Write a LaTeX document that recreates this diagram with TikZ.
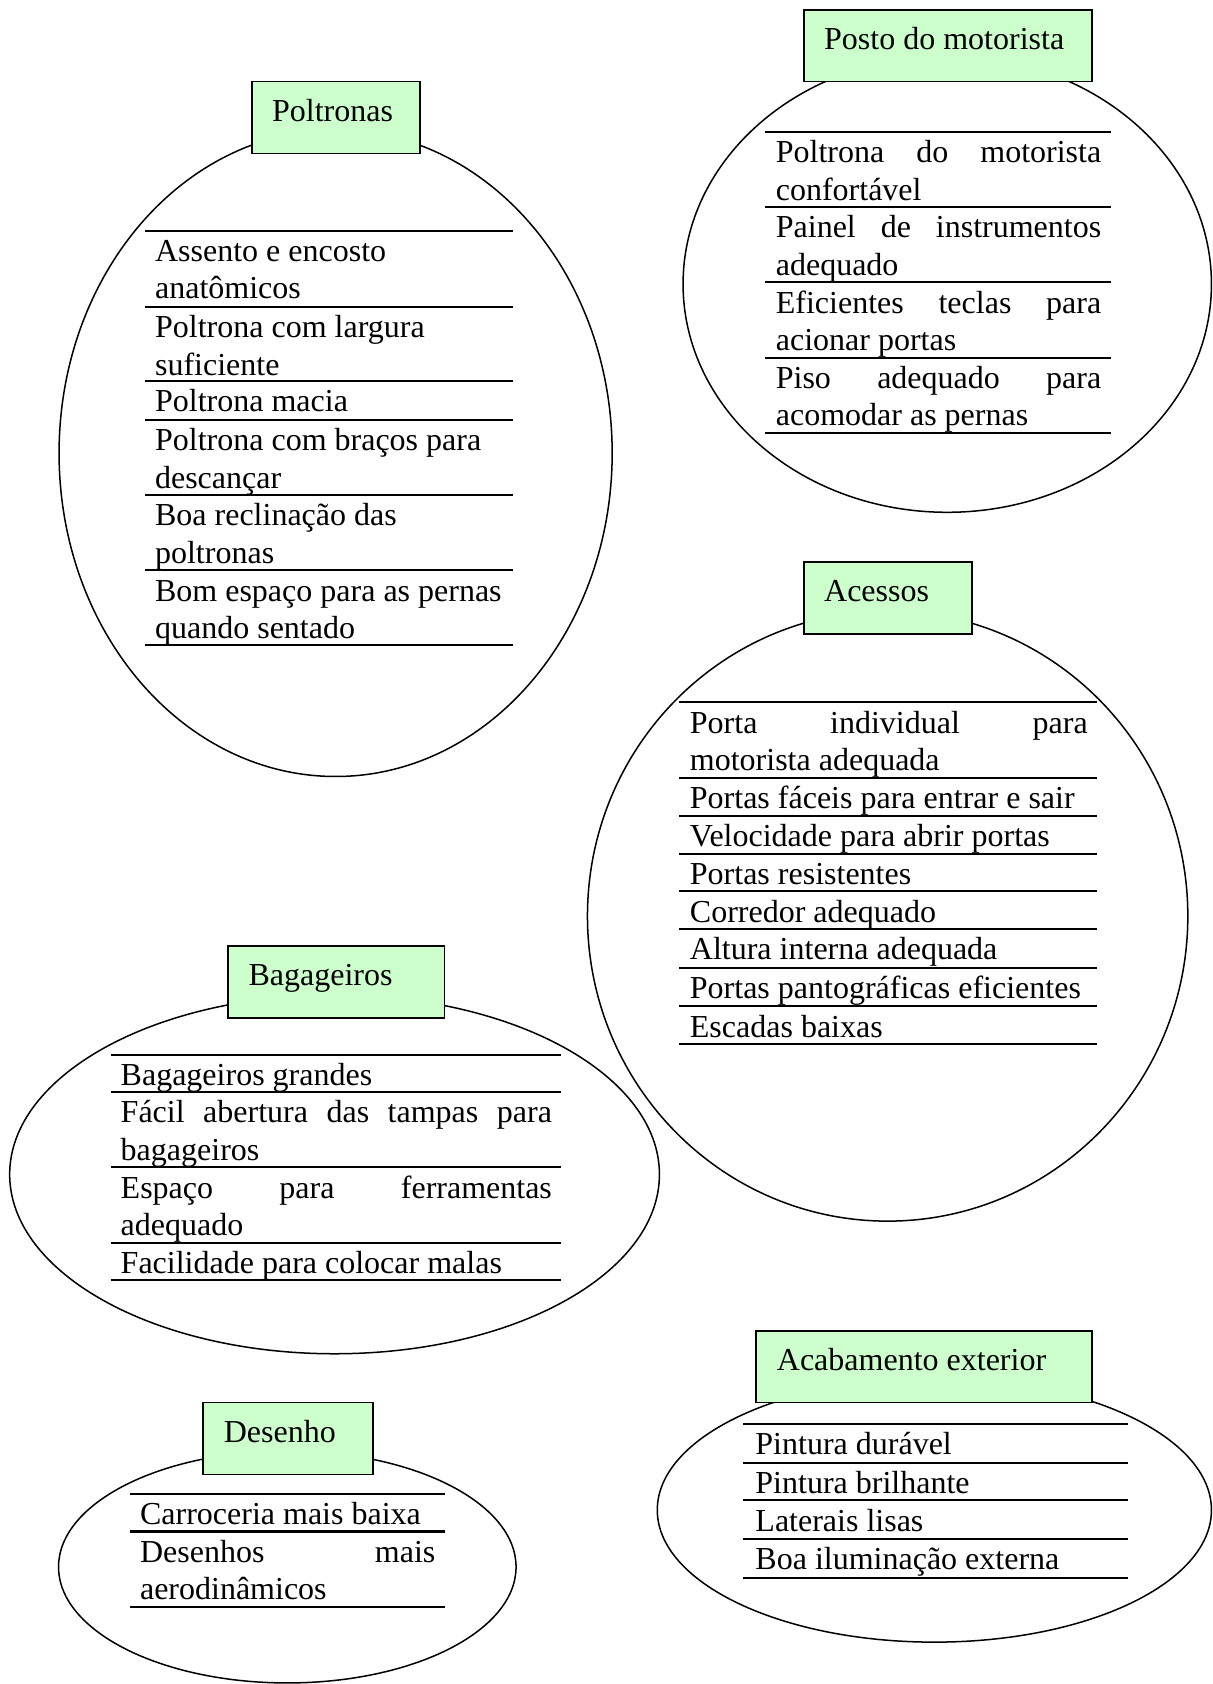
\documentclass[tikz,border=0pt]{standalone}
\usepackage{fontspec}
\setmainfont{Liberation Serif}
\definecolor{boxgreen}{HTML}{CCFFCC}
\newcommand\firststrut{\rule{0pt}{14.1pt}}
\newcommand\jline[2]{\makebox[#1][s]{#2}}
\tikzset{
  oval/.style={draw=black, line width=0.7pt},
  titlebox/.style={draw=black, fill=boxgreen, line width=0.9pt, inner sep=0pt, anchor=north west, minimum height=33.5pt},
  title/.style={inner sep=0pt, anchor=base west, font=\fontsize{14.9pt}{17.4pt}\selectfont},
  itm/.style={inner sep=0pt, anchor=north west, align=left, font=\fontsize{14.9pt}{17.4pt}\selectfont},
  sep/.style={draw=black, line width=0.95pt}
}
\begin{document}
\begin{tikzpicture}[x=0.5pt, y=-0.5pt]
\useasboundingbox (0,0) rectangle (1129,1568);

% ---------------- Poltronas ----------------
\draw[oval] (312.5,422) ellipse [x radius=128.75pt, y radius=150.5pt];
\node[titlebox, minimum width=78pt] (boxP) at (234,75) {};
\node[title] (titP) at (253,113) {Poltronas};
\foreach \yy in {215,286,355,391,461,531,601} \draw[sep] (135,\yy) -- (478,\yy);
\node[itm] (p1) at (144,215) {\firststrut Assento e encosto\\anatômicos};
\node[itm] (p2) at (144,286) {\firststrut Poltrona com largura\\suficiente};
\node[itm] (p3) at (144,355) {\firststrut Poltrona macia};
\node[itm] (p4) at (144,391) {\firststrut Poltrona com braços para\\descançar};
\node[itm] (p5) at (144,461) {\firststrut Boa reclinação das\\poltronas};
\node[itm] (p6) at (144,531) {\firststrut Bom espaço para as pernas\\quando sentado};

% ---------------- Posto do motorista ----------------
\draw[oval] (882,264.5) ellipse [x radius=123pt, y radius=106.25pt];
\node[titlebox, minimum width=134pt] (boxM) at (748,8) {};
\node[title] (titM) at (767,46) {Posto do motorista};
\foreach \yy in {123,193,263,333,403} \draw[sep] (712,\yy) -- (1034,\yy);
\node[itm] (m1) at (722,123) {\firststrut\jline{151.5pt}{Poltrona do motorista}\\confortável};
\node[itm] (m2) at (722,193) {\firststrut\jline{151.5pt}{Painel de instrumentos}\\adequado};
\node[itm] (m3) at (722,263) {\firststrut\jline{151.5pt}{Eficientes teclas para}\\acionar portas};
\node[itm] (m4) at (722,333) {\firststrut\jline{151.5pt}{Piso adequado para}\\acomodar as pernas};

% ---------------- Acessos ----------------
\draw[oval] (826.5,853) ellipse [x radius=139.75pt, y radius=142pt];
\node[titlebox, minimum width=78pt] (boxA) at (748,522) {};
\node[title] (titA) at (767,560) {Acessos};
\foreach \yy in {654,724,760,795,830,865,901,937,972} \draw[sep] (632,\yy) -- (1021,\yy);
\node[itm] (a1) at (642,654) {\firststrut\jline{185.2pt}{Porta individual para}\\motorista adequada};
\node[itm] (a2) at (642,724) {\firststrut Portas fáceis para entrar e sair};
\node[itm] (a3) at (642,760) {\firststrut Velocidade para abrir portas};
\node[itm] (a4) at (642,795) {\firststrut Portas resistentes};
\node[itm] (a5) at (642,830) {\firststrut Corredor adequado};
\node[itm] (a6) at (642,865) {\firststrut Altura interna adequada};
\node[itm] (a7) at (642,901) {\firststrut Portas pantográficas eficientes};
\node[itm] (a8) at (642,937) {\firststrut Escadas baixas};

% ---------------- Bagageiros ----------------
\draw[oval] (311.5,1093.5) ellipse [x radius=151.25pt, y radius=83.5pt];
\node[titlebox, minimum width=101pt] (boxB) at (211,880) {};
\node[title] (titB) at (231,918) {Bagageiros};
\foreach \yy in {982,1017,1087,1157,1192} \draw[sep] (103,\yy) -- (522,\yy);
\node[itm] (b1) at (112,982) {\firststrut Bagageiros grandes};
\node[itm] (b2) at (112,1017) {\firststrut\jline{200.75pt}{Fácil abertura das tampas para}\\bagageiros};
\node[itm] (b3) at (112,1087) {\firststrut\jline{200.75pt}{Espaço para ferramentas}\\adequado};
\node[itm] (b4) at (112,1157) {\firststrut Facilidade para colocar malas};

% ---------------- Desenho ----------------
\draw[oval] (267.5,1459) ellipse [x radius=106.5pt, y radius=54pt];
\node[titlebox, minimum width=79pt] (boxD) at (188,1305) {};
\node[title] (titD) at (208,1343) {Desenho};
\foreach \yy in {1391,1426,1496} \draw[sep] (121,\yy) -- (414,\yy);
\node[itm] (d1) at (130,1391) {\firststrut Carroceria mais baixa};
\node[itm] (d2) at (130,1426) {\firststrut\jline{137.5pt}{Desenhos mais}\\aerodinâmicos};

% ---------------- Acabamento exterior ----------------
\draw[oval] (870,1406) ellipse [x radius=129pt, y radius=61.5pt];
\node[titlebox, minimum width=156.5pt] (boxE) at (703,1238) {};
\node[title] (titE) at (723,1276) {Acabamento exterior};
\foreach \yy in {1326,1362,1397,1433,1469} \draw[sep] (692,\yy) -- (1050,\yy);
\node[itm] (e1) at (703,1326) {\firststrut Pintura durável};
\node[itm] (e2) at (703,1362) {\firststrut Pintura brilhante};
\node[itm] (e3) at (703,1397) {\firststrut Laterais lisas};
\node[itm] (e4) at (703,1433) {\firststrut Boa iluminação externa};
\end{tikzpicture}
\end{document}
